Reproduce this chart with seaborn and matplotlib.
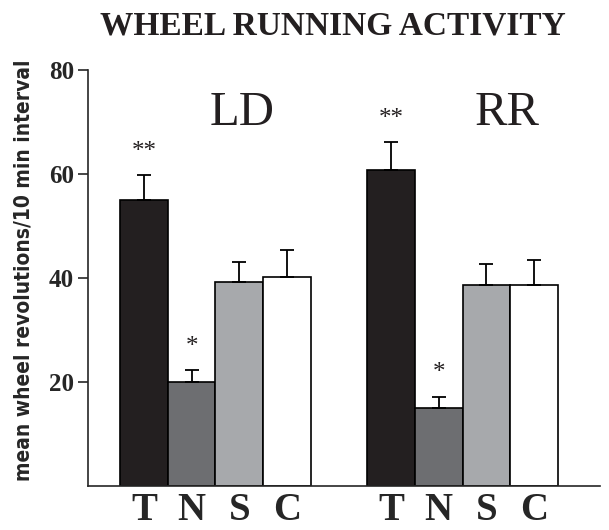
import numpy as np
import pandas as pd
import seaborn as sns
import matplotlib
matplotlib.use("Agg")
import matplotlib.pyplot as plt
from matplotlib import font_manager as fm

groups = ["LD", "RR"]
conds = ["T", "N", "S", "C"]
ld_means = [55.0, 20.0, 39.3, 40.1]
ld_err = [4.8, 2.3, 3.7, 5.3]
rr_means = [60.8, 15.0, 38.7, 38.7]
rr_err = [5.3, 2.2, 4.0, 4.8]
ld_stars = ["**", "*", "", ""]
rr_stars = ["**", "*", "", ""]
colors = ["#231f20", "#6d6e71", "#a7a9ac", "#ffffff"]

df = pd.DataFrame({
    "group": np.repeat(groups, len(conds)),
    "cond": conds * len(groups),
    "value": ld_means + rr_means,
    "err": ld_err + rr_err,
    "star": ld_stars + rr_stars,
})

sns.set_style("ticks")
serif = "Liberation Serif"

# condensed bold sans for the y label, if one is around
ylab_prop = fm.FontProperties(family="DejaVu Sans", weight="bold", stretch="condensed")
ylab_size = 13
if "Condensed" in fm.findfont(ylab_prop):
    ylab_size = 15
else:
    ylab_prop = fm.FontProperties(family="Liberation Sans", weight="bold")

fig = plt.figure(figsize=(6.09, 5.30), dpi=100)
ax = fig.add_axes([0.1445, 0.083, 0.8405, 0.785])

sns.barplot(data=df, x="group", y="value", hue="cond", hue_order=conds,
            palette=dict(zip(conds, colors)), width=0.77, errorbar=None,
            edgecolor="black", linewidth=1.2, saturation=1, legend=False, ax=ax)

centers = []
names = []
for cont, c in zip(ax.containers, conds):
    for bar, g in zip(cont, groups):
        row = df[(df.group == g) & (df.cond == c)].iloc[0]
        xc = bar.get_x() + bar.get_width() / 2
        top = bar.get_height()
        ax.errorbar(xc, top, yerr=[[0], [row.err]], fmt="none", ecolor="black",
                    elinewidth=1.3, capsize=5, capthick=1.3, zorder=3)
        if row.star:
            ax.text(xc, top + row.err + 4.5, row.star, ha="center", va="center",
                    fontsize=18, family=serif, color="#231f20")
        centers.append(xc)
        names.append(c)

ax.set_xlim(-0.516, 1.556)
ax.set_ylim(0, 80)
ax.set_xticks(centers)
ax.set_xticklabels(names, family=serif, fontweight="bold", fontsize=28)
ax.set_yticks([20, 40, 60, 80])
ax.set_yticklabels(["20", "40", "60", "80"], family=serif, fontweight="bold", fontsize=18)
ax.tick_params(axis="x", length=0, pad=4)
ax.tick_params(axis="y", length=7, width=1.2, pad=3)
ax.set_xlabel("")
ax.set_ylabel("")
sns.despine(ax=ax)
for s in ["left", "bottom"]:
    ax.spines[s].set_linewidth(1.2)

# group labels, placed relative to each group's category position
for i, g in enumerate(groups):
    ax.text(i + (0.107 if g == "LD" else 0.18), 71.7, g, ha="center", va="center",
            fontsize=35, family=serif, color="#231f20")

fig.text(0.547, 0.934, "WHEEL RUNNING ACTIVITY", ha="center", va="baseline",
         fontsize=24, fontweight="bold", family=serif, color="#231f20")

fig.text(0.038, 0.49, "mean wheel revolutions/10 min interval", rotation=90,
         ha="center", va="center", fontproperties=ylab_prop, fontsize=ylab_size)

fig.savefig("out.png", dpi=100)
